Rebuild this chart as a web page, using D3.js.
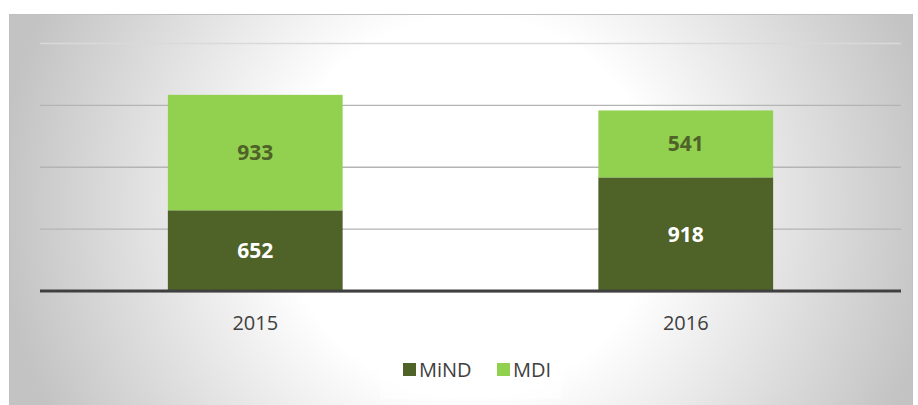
<!DOCTYPE html>
<html>
<head>
<meta charset="utf-8">
<script src="https://cdn.jsdelivr.net/npm/d3@7"></script>
<style>
  body { margin: 0; background: #fff; }
  svg { display: block; }
  text { font-family: 'Open Sans', sans-serif; }
</style>
</head>
<body>
<div id="chart"></div>
<script>
var years = [ '2015', '2016' ];
var seriesNames = [ 'MiND', 'MDI' ];
var mind = [ 652, 918 ];
var mdi = [ 933, 541 ];
var yTicks = [ 500, 1000, 1500, 2000 ];

var colors = { MiND: '#4f6228', MDI: '#92d050' };
var labelColors = { MiND: '#ffffff', MDI: '#4f6228' };

var width = 918, height = 405;
var plot = { left: 40, right: 901, top: 43.5, bottom: 291 };

var svg = d3.select( '#chart' ).append( 'svg' )
  .attr( 'width', width )
  .attr( 'height', height );

// background gradient of the chart area (white centre, grey rim)
var defs = svg.append( 'defs' );
var grad = defs.append( 'radialGradient' )
  .attr( 'id', 'bg' )
  .attr( 'gradientUnits', 'userSpaceOnUse' )
  .attr( 'cx', 470 ).attr( 'cy', 205 ).attr( 'r', 470 );
grad.append( 'stop' ).attr( 'offset', '0' ).attr( 'stop-color', '#ffffff' );
grad.append( 'stop' ).attr( 'offset', '0.4' ).attr( 'stop-color', '#ffffff' );
grad.append( 'stop' ).attr( 'offset', '1' ).attr( 'stop-color', '#c3c3c3' );

svg.append( 'rect' )
  .attr( 'x', 9.5 ).attr( 'y', 14.5 )
  .attr( 'width', 903 ).attr( 'height', 400 )
  .attr( 'fill', 'url(#bg)' )
  .attr( 'stroke', '#c0c0c0' )
  .attr( 'stroke-width', 1 );

var x = d3.scaleBand()
  .domain( years )
  .range( [ plot.left, plot.right ] )
  .paddingInner( 0.594 )
  .paddingOuter( 0.297 );

var y = d3.scaleLinear()
  .domain( [ 0, 2000 ] )
  .range( [ plot.bottom, plot.top ] );

// gridlines
svg.append( 'g' )
  .selectAll( 'line' )
  .data( yTicks )
  .enter()
  .append( 'line' )
    .attr( 'x1', plot.left ).attr( 'x2', plot.right )
    .attr( 'y1', d => y( d ) ).attr( 'y2', d => y( d ) )
    .attr( 'stroke', d => d === 2000 ? '#d9d9d9' : '#b4b4b4' )
    .attr( 'stroke-width', 1.3 );

// stacked data
var table = years.map( ( yr, i ) => ( { year: yr, MiND: mind[ i ], MDI: mdi[ i ] } ) );
var stacked = d3.stack().keys( seriesNames )( table );

var layers = svg.append( 'g' )
  .selectAll( 'g' )
  .data( stacked )
  .enter()
  .append( 'g' )
    .attr( 'fill', d => colors[ d.key ] );

layers.selectAll( 'rect' )
  .data( d => d )
  .enter()
  .append( 'rect' )
    .attr( 'x', d => x( d.data.year ) )
    .attr( 'width', x.bandwidth() )
    .attr( 'y', d => y( d[ 1 ] ) )
    .attr( 'height', d => y( d[ 0 ] ) - y( d[ 1 ] ) );

// data labels
stacked.forEach( function( layer ) {
  svg.append( 'g' )
    .selectAll( 'text' )
    .data( layer )
    .enter()
    .append( 'text' )
      .attr( 'x', d => x( d.data.year ) + x.bandwidth() / 2 )
      .attr( 'y', d => ( y( d[ 0 ] ) + y( d[ 1 ] ) ) / 2 )
      .attr( 'dy', '0.36em' )
      .attr( 'text-anchor', 'middle' )
      .attr( 'font-size', 21 )
      .attr( 'font-weight', 'bold' )
      .attr( 'fill', labelColors[ layer.key ] )
      .text( d => d.data[ layer.key ] );
} );

// baseline
svg.append( 'line' )
  .attr( 'x1', plot.left ).attr( 'x2', plot.right )
  .attr( 'y1', plot.bottom + 1.5 ).attr( 'y2', plot.bottom + 1.5 )
  .attr( 'stroke', '#d0d0d0' ).attr( 'stroke-width', 1 );
svg.append( 'line' )
  .attr( 'x1', plot.left ).attr( 'x2', plot.right )
  .attr( 'y1', plot.bottom ).attr( 'y2', plot.bottom )
  .attr( 'stroke', '#404040' ).attr( 'stroke-width', 3 );

// category labels
svg.append( 'g' )
  .selectAll( 'text' )
  .data( years )
  .enter()
  .append( 'text' )
    .attr( 'x', d => x( d ) + x.bandwidth() / 2 )
    .attr( 'y', 323 )
    .attr( 'dy', '0.36em' )
    .attr( 'text-anchor', 'middle' )
    .attr( 'font-size', 20 )
    .attr( 'fill', '#404040' )
    .text( d => d );

// legend
var legend = svg.append( 'g' );
legend.append( 'rect' )
  .attr( 'x', 380 ).attr( 'y', 353 )
  .attr( 'width', 181 ).attr( 'height', 46 )
  .attr( 'fill', '#ffffff' ).attr( 'fill-opacity', 0.55 );

var legendX = [ 403, 497 ];
var items = legend.selectAll( 'g' )
  .data( seriesNames )
  .enter()
  .append( 'g' )
    .attr( 'transform', ( d, i ) => 'translate(' + legendX[ i ] + ',363)' );

items.append( 'rect' )
  .attr( 'width', 13 ).attr( 'height', 13 )
  .attr( 'fill', d => colors[ d ] );

items.append( 'text' )
  .attr( 'x', 16 )
  .attr( 'y', 6.5 )
  .attr( 'dy', '0.36em' )
  .attr( 'font-size', 20 )
  .attr( 'fill', '#404040' )
  .text( d => d );
</script>
</body>
</html>
